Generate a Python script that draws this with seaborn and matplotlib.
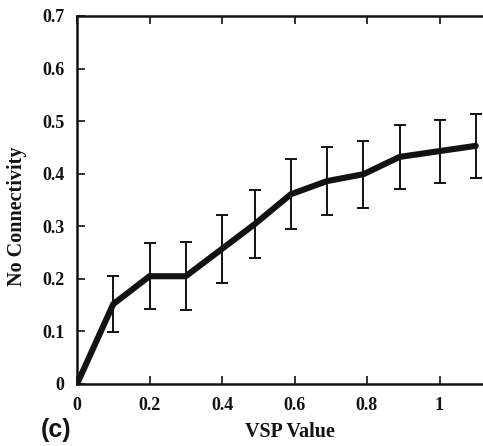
import matplotlib
matplotlib.use("Agg")
import matplotlib.pyplot as plt
import seaborn as sns
import pandas as pd

# VSP value vs. fraction of "no connectivity", with standard deviation
vsp = [0.0, 0.10, 0.20, 0.30, 0.40, 0.49, 0.59, 0.69, 0.79, 0.89, 1.00, 1.10]
no_conn = [0.0, 0.152, 0.205, 0.205, 0.257, 0.304, 0.361, 0.386, 0.399, 0.432, 0.443, 0.453]
err = [0.0, 0.054, 0.063, 0.065, 0.064, 0.065, 0.067, 0.065, 0.064, 0.061, 0.060, 0.061]

x_ticks = [0, 0.2, 0.4, 0.6, 0.8, 1.0]
x_tick_labels = ["0", "0.2", "0.4", "0.6", "0.8", "1"]
y_ticks = [0, 0.1, 0.2, 0.3, 0.4, 0.5, 0.6, 0.7]
y_tick_labels = ["0", "0.1", "0.2", "0.3", "0.4", "0.5", "0.6", "0.7"]

df = pd.DataFrame({"VSP Value": vsp, "No Connectivity": no_conn, "err": err})

sns.set_theme(style="white")
plt.rcParams["font.family"] = ["Liberation Serif", "DejaVu Serif"]

fig = plt.figure(figsize=(4.83, 4.46), dpi=100)
ax = fig.add_axes([77 / 483, 1 - 384 / 446, 406 / 483, 368 / 446])

ink = "#121212"
# error bars (skip the origin, which has none)
eb = df.iloc[1:]
ax.errorbar(eb["VSP Value"], eb["No Connectivity"], yerr=eb["err"], fmt="none",
            ecolor=ink, elinewidth=1.4, capsize=4, capthick=1.4, zorder=2)
sns.lineplot(data=df, x="VSP Value", y="No Connectivity", ax=ax, color=ink,
             linewidth=4.4, zorder=3, solid_joinstyle="miter")

ax.set_xlim(0, 1.12)
ax.set_ylim(0, 0.7)
ax.set_xticks(x_ticks)
ax.set_xticklabels(x_tick_labels)
ax.set_yticks(y_ticks)
ax.set_yticklabels(y_tick_labels)

for side in ["left", "bottom", "top"]:
    ax.spines[side].set_visible(True)
    ax.spines[side].set_color(ink)
    ax.spines[side].set_linewidth(1.8)
ax.spines["right"].set_visible(False)

ax.tick_params(axis="x", direction="in", top=True, bottom=True, length=6, width=1.2,
               color=ink, pad=9, labelsize=13)
ax.tick_params(axis="y", direction="in", left=True, right=False, length=6, width=1.2,
               color=ink, pad=9, labelsize=13)
for lab in ax.get_xticklabels() + ax.get_yticklabels():
    lab.set_fontweight("bold")
    lab.set_color(ink)

ax.set_xlabel("")
ax.set_ylabel("")
fig.text(290 / 483, 1 - 432 / 446, "VSP Value", ha="center", va="center",
         fontsize=14.5, fontweight="bold", color=ink)
fig.text(17 / 483, 1 - 216 / 446, "No Connectivity", ha="center", va="center",
         rotation=90, fontsize=14.5, fontweight="bold", color=ink)
fig.text(56 / 483, 1 - 430 / 446, "(c)", ha="center", va="center",
         fontsize=18, fontweight="bold", color=ink, family=["Liberation Sans", "DejaVu Sans"])

fig.savefig("out.png", dpi=100)
